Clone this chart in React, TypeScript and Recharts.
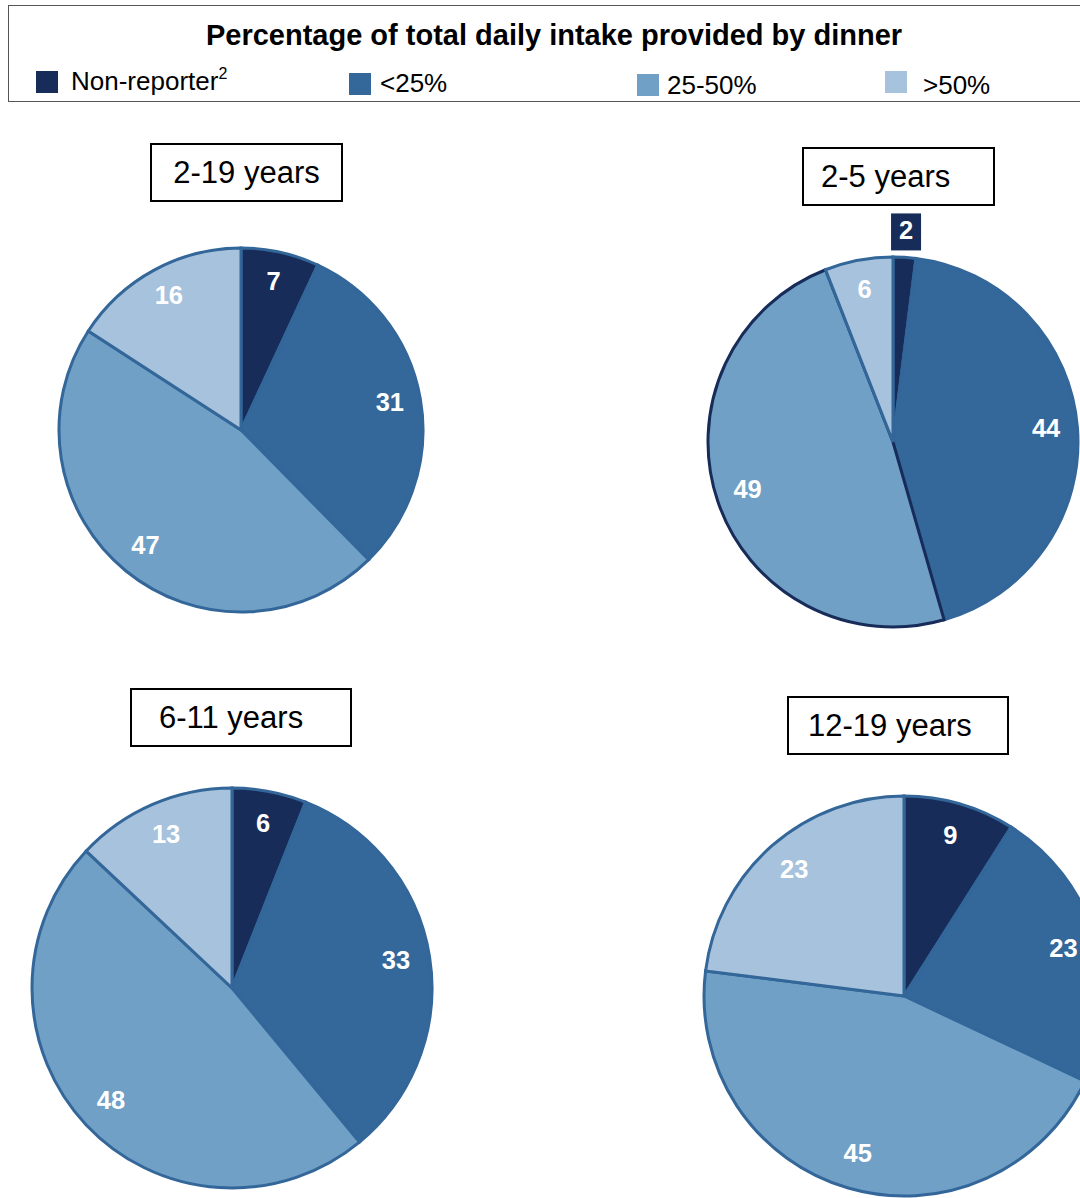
import React from 'react';
import { PieChart, Pie, Cell } from 'recharts';

// legend categories, in slice order (clockwise from 12 o'clock)
const categories = ['Non-reporter', '<25%', '25-50%', '>50%'];
const COLORS = ['#172c59', '#34679a', '#70a0c6', '#a7c2dc'];
const STROKE = '#336699';

const ages = ['2-19 years', '2-5 years', '6-11 years', '12-19 years'];
const values2to19 = [7, 31, 47, 16];
const values2to5 = [2, 44, 49, 6];
const values6to11 = [6, 33, 48, 13];
const values12to19 = [9, 23, 45, 23];

const toData = (vals: number[]) => vals.map((v, i) => ({ name: categories[i], value: v }));

const RAD = Math.PI / 180;
const FONT = '"Liberation Sans", Arial, sans-serif';

// white bold numbers inside the slices; tiny slices get a navy tag outside
const makeLabel = (outsideIdx: number = -1) => (props: any) => {
  const { cx, cy, midAngle, outerRadius, value, index } = props;
  const outside = index === outsideIdx;
  const r = outerRadius * (outside ? 1.135 : 0.83);
  const x = cx + r * Math.cos(-midAngle * RAD);
  const y = cy + r * Math.sin(-midAngle * RAD) - 2;
  return (
    <g key={`lbl-${index}`}>
      {outside && <rect x={x - 15} y={y - 17} width={30} height={37} fill={COLORS[0]} />}
      <text
        x={x}
        y={y}
        fill="#fff"
        textAnchor="middle"
        dominantBaseline="central"
        style={{ fontFamily: FONT, fontSize: 25.5, fontWeight: 700 }}
      >
        {value}
      </text>
    </g>
  );
};

const boxStyle = (left: number, top: number, width: number, pad?: number): React.CSSProperties => ({
  position: 'absolute',
  left,
  top,
  width,
  height: 59,
  boxSizing: 'border-box',
  border: '2px solid #000',
  background: '#fff',
  display: 'flex',
  alignItems: 'center',
  justifyContent: pad === undefined ? 'center' : 'flex-start',
  paddingLeft: pad ?? 0,
  fontFamily: FONT,
  fontSize: 31,
  color: '#000',
});

const legendPos = [
  { sq: [36, 71], tx: 71, ty: 66 },
  { sq: [349, 73], tx: 380, ty: 68 },
  { sq: [637, 74], tx: 667, ty: 70 },
  { sq: [885, 71], tx: 923, ty: 70 },
];

export default function App() {
  const pies = [
    { vals: values2to19, cx: 241, cy: 430, r: 182 },
    { vals: values2to5, cx: 893, cy: 442, r: 185 },
    { vals: values6to11, cx: 232, cy: 988, r: 200 },
    { vals: values12to19, cx: 904, cy: 996, r: 200 },
  ];

  return (
    <div style={{ position: 'absolute', left: 0, top: 0, width: 1080, height: 1198, overflow: 'hidden', background: '#fff' }}>
      <PieChart width={1080} height={1198} margin={{ top: 0, right: 0, bottom: 0, left: 0 }}>
        {pies.map((p, k) => (
          <Pie
            key={ages[k]}
            data={toData(p.vals)}
            dataKey="value"
            nameKey="name"
            cx={p.cx}
            cy={p.cy}
            outerRadius={p.r}
            startAngle={90}
            endAngle={-270}
            stroke={STROKE}
            strokeWidth={3}
            label={makeLabel(k === 1 ? 0 : -1)}
            labelLine={false}
            isAnimationActive={false}
          >
            {p.vals.map((_, i) => (
              <Cell
                key={`c-${k}-${i}`}
                fill={COLORS[i]}
                stroke={k === 1 && i === 2 ? COLORS[0] : STROKE}
              />
            ))}
          </Pie>
        ))}
      </PieChart>

      {/* legend box */}
      <div
        style={{
          position: 'absolute',
          left: 8,
          top: 5,
          width: 1100,
          height: 97,
          boxSizing: 'border-box',
          border: '1.5px solid #555',
          fontFamily: FONT,
        }}
      >
        <div style={{ position: 'absolute', left: 0, width: 1090, top: 13, textAlign: 'center', fontSize: 29, fontWeight: 700, color: '#000' }}>
          Percentage of total daily intake provided by dinner
        </div>
      </div>
      {categories.map((c, i) => (
        <React.Fragment key={c}>
          <div style={{ position: 'absolute', left: legendPos[i].sq[0], top: legendPos[i].sq[1], width: 22, height: 22, background: COLORS[i] }} />
          <div style={{ position: 'absolute', left: legendPos[i].tx, top: legendPos[i].ty, fontFamily: FONT, fontSize: 26, color: '#000', whiteSpace: 'nowrap' }}>
            {c}
            {i === 0 && <sup style={{ fontSize: 16, verticalAlign: 'top', position: 'relative', top: -1 }}>2</sup>}
          </div>
        </React.Fragment>
      ))}

      {/* age group title boxes */}
      <div style={boxStyle(150, 143, 193)}>{ages[0]}</div>
      <div style={boxStyle(802, 147, 193, 17)}>{ages[1]}</div>
      <div style={boxStyle(130, 688, 222, 27)}>{ages[2]}</div>
      <div style={boxStyle(787, 696, 222, 19)}>{ages[3]}</div>
    </div>
  );
}
